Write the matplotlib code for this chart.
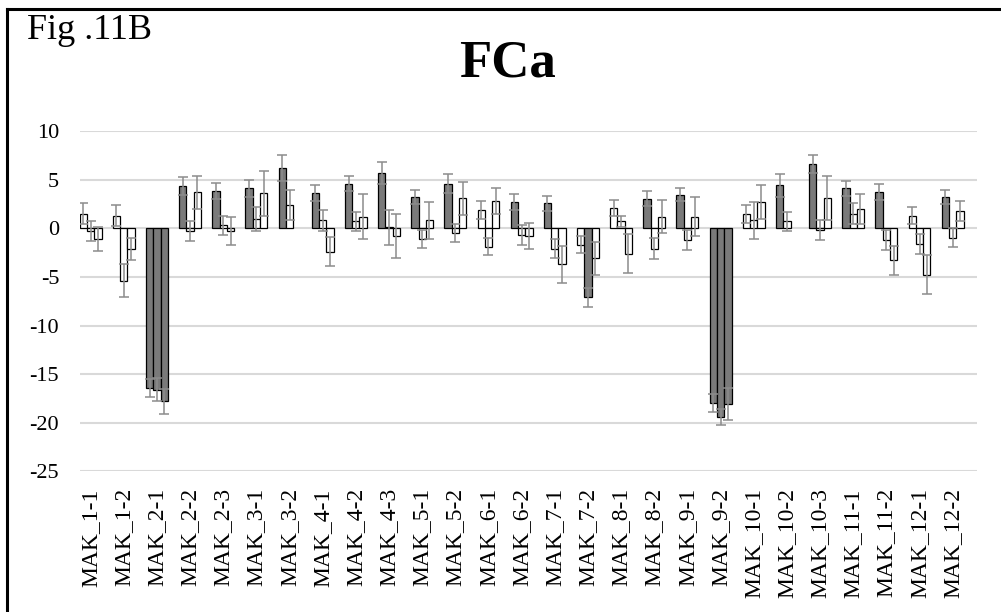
import numpy as np
import matplotlib
matplotlib.use('Agg')
import matplotlib.pyplot as plt
from matplotlib.lines import Line2D

# данные (FCa), три ряда на каждую линию MAK
labels = ['MAK_1-1', 'MAK_1-2', 'MAK_2-1', 'MAK_2-2', 'MAK_2-3', 'MAK_3-1', 'MAK_3-2',
          'MAK_4-1', 'MAK_4-2', 'MAK_4-3', 'MAK_5-1', 'MAK_5-2', 'MAK_6-1', 'MAK_6-2',
          'MAK_7-1', 'MAK_7-2', 'MAK_8-1', 'MAK_8-2', 'MAK_9-1', 'MAK_9-2', 'MAK_10-1',
          'MAK_10-2', 'MAK_10-3', 'MAK_11-1', 'MAK_11-2', 'MAK_12-1', 'MAK_12-2']

val1 = [1.5, 1.3, -16.4, 4.35, 3.85, 4.1, 6.2, 3.6, 4.6, 5.7, 3.2, 4.6, 1.9, 2.7,
        2.55, -1.7, 2.1, 3.05, 3.45, -17.95, 1.45, 4.4, 6.6, 4.1, 3.7, 1.3, 3.2]
err1 = [1.1, 1.1, 0.9, 0.95, 0.8, 0.9, 1.3, 0.8, 0.8, 1.15, 0.75, 0.95, 0.9, 0.87,
        0.8, 0.87, 0.8, 0.8, 0.65, 0.9, 0.9, 1.15, 0.9, 0.8, 0.8, 0.9, 0.75]
sig1 = [0, 0, 1, 1, 1, 1, 1, 1, 1, 1, 1, 1, 0, 1,
        1, 0, 0, 1, 1, 1, 0, 1, 1, 1, 1, 0, 1]

val2 = [-0.3, -5.4, -16.6, -0.3, 0.3, 0.95, 2.4, 0.8, 0.7, 0.1, -1.1, -0.5, -1.9, -0.7,
        -2.1, -7.1, 0.7, -2.1, -1.2, -19.4, 0.8, 0.7, -0.2, 1.5, -1.2, -1.6, -0.95]
err2 = [1.0, 1.7, 1.2, 1.0, 1.0, 1.2, 1.55, 1.1, 0.95, 1.8, 0.9, 0.95, 0.85, 1.0,
        0.95, 1.0, 0.6, 1.1, 1.0, 0.85, 1.9, 1.0, 1.0, 1.05, 1.0, 1.0, 1.0]
sig2 = [0, 0, 1, 0, 0, 0, 0, 0, 0, 0, 0, 0, 0, 0,
        0, 1, 0, 0, 0, 1, 0, 0, 0, 0, 0, 0, 0]

val3 = [-1.1, -2.1, -17.8, 3.7, -0.25, 3.6, np.nan, -2.4, 1.2, -0.8, 0.8, 3.1, 2.8, -0.8,
        -3.7, -3.1, -2.6, 1.2, 1.2, -18.1, 2.7, np.nan, 3.1, 2.0, -3.3, -4.8, 1.8]
err3 = [1.2, 1.15, 1.25, 1.7, 1.45, 2.3, 0.0, 1.5, 2.3, 2.3, 1.95, 1.7, 1.35, 1.35,
        1.9, 1.7, 2.0, 1.7, 2.0, 1.65, 1.75, 0.0, 2.3, 1.55, 1.5, 2.0, 1.05]
sig3 = [0, 0, 1, 0, 0, 0, 0, 0, 0, 0, 0, 0, 0, 0,
        0, 0, 0, 0, 0, 1, 0, 0, 0, 0, 0, 0, 0]

plt.rcParams['font.family'] = ['Liberation Serif', 'DejaVu Serif']
plt.rcParams['axes.unicode_minus'] = False

fig = plt.figure(figsize=(10.01, 6.12), dpi=100)
ax = fig.add_axes([0.0799, 0.2296, 0.896, 0.5564])

x = np.arange(len(labels))
w = 0.22
gray = '#7a7a7a'

for k, (v, e, s) in enumerate([(val1, err1, sig1), (val2, err2, sig2), (val3, err3, sig3)]):
    cols = [gray if f else 'white' for f in s]
    ax.bar(x + (k - 1) * w, v, w, color=cols, edgecolor='black', linewidth=0.9, zorder=3)
    ax.errorbar(x + (k - 1) * w, v, yerr=e, fmt='none', ecolor='#8c8c8c',
                elinewidth=1.1, capsize=3.5, capthick=1.1, zorder=4)

ax.set_ylim(-25, 10)
ax.set_xlim(-0.32, 26.73)
ax.set_yticks(np.arange(-25, 11, 5))
ax.grid(axis='y', color='#d9d9d9', linewidth=1.5, zorder=0)
ax.set_axisbelow(True)
for sp in ax.spines.values():
    sp.set_visible(False)

ax.set_xticks(x)
ax.set_xticklabels(labels, rotation=90, fontsize=17)
ax.tick_params(axis='x', length=0, pad=12)
ax.tick_params(axis='y', length=0, pad=15, labelsize=16)

fig.text(0.507, 0.897, 'FCa', fontsize=38, fontweight='bold', ha='center', va='center')
fig.text(0.027, 0.95, 'Fig .11B', fontsize=26, ha='left', va='center')

# рамка вокруг рисунка (только слева и сверху)
fig.add_artist(Line2D([0.0065, 0.0065], [0.0, 0.985], transform=fig.transFigure,
                      color='black', linewidth=2.2))
fig.add_artist(Line2D([0.0065, 1.0], [0.985, 0.985], transform=fig.transFigure,
                      color='black', linewidth=2.2))

fig.savefig('out.png', dpi=100)
